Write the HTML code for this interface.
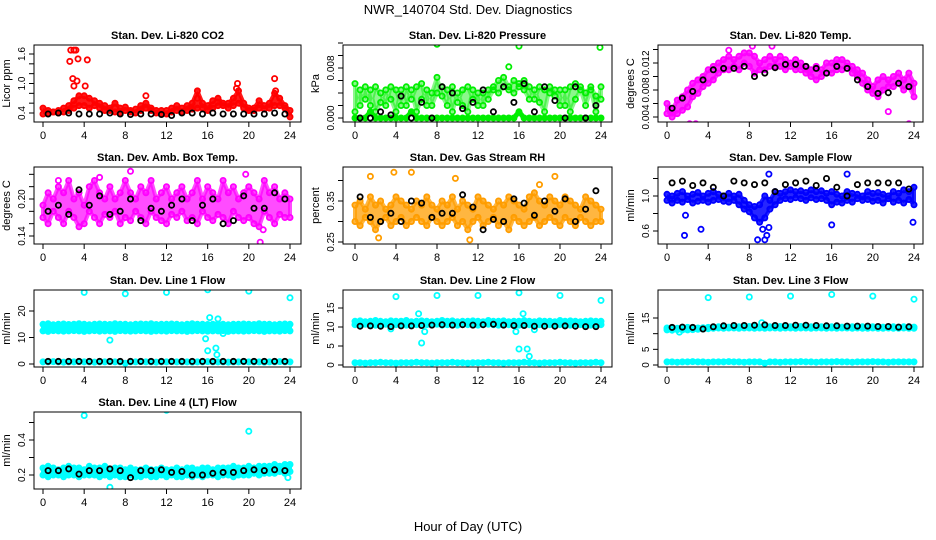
<!DOCTYPE html>
<html><head><meta charset="utf-8"><style>
body{margin:0;background:#fff}
svg{display:block;font-family:"Liberation Sans",sans-serif}
</style></head><body>
<svg id="c" width="936" height="540" viewBox="0 0 936 540">
<text x="468" y="14" text-anchor="middle" font-size="13">NWR_140704  Std. Dev. Diagnostics</text>
<text x="468" y="531" text-anchor="middle" font-size="13">Hour of Day (UTC)</text>
</svg>
<script>
const xTicks=[0,4,8,12,16,20,24];
// Panel 1 CO2
const co2Main=[0.5,0.45,0.42,0.45,0.5,0.55,0.65,0.75,0.75,0.7,0.65,0.6,0.55,0.5,0.6,0.5,0.52,0.45,0.48,0.55,0.6,0.5,0.45,0.45,0.45,0.5,0.55,0.5,0.55,0.6,0.85,0.6,0.55,0.65,0.7,0.6,0.6,0.7,0.85,0.6,0.5,0.5,0.65,0.55,0.6,0.8,0.7,0.55,0.45];
const co2Low=[0.38,0.4,0.42,0.4,0.42,0.45,0.5,0.55,0.55,0.5,0.55,0.5,0.45,0.45,0.42,0.4,0.45,0.42,0.4,0.45,0.5,0.45,0.4,0.38,0.38,0.42,0.45,0.42,0.45,0.48,0.5,0.5,0.45,0.5,0.55,0.55,0.5,0.55,0.6,0.5,0.45,0.45,0.5,0.48,0.5,0.55,0.55,0.5,0.32];
const co2Black=[0.38,0.4,0.4,0.38,0.38,0.38,0.4,0.38,0.37,0.38,0.38,0.37,0.35,0.4,0.4,0.38,0.4,0.38,0.38,0.38,0.38,0.38,0.4,0.38];
const co2OutX=[2.7,2.9,3.0,3.2,3.4,4.3,2.6,3.0,3.3,4.1,18.9,18.8,22.5,22.6,10.0,15.0];
const co2OutY=[1.68,1.1,1.68,1.68,1.5,1.48,1.45,0.95,1.05,0.95,1.0,0.9,1.1,0.85,0.75,0.7];
// Panel 2 Pressure
const prMain=[0.0055,0.002,0.005,0.002,0.005,0.004,0.002,0.005,0.0045,0.002,0.005,0.003,0.005,0.0055,0.002,0.004,0.0065,0.0035,0.002,0.005,0.0025,0.0045,0.005,0.003,0.004,0.002,0.0045,0.005,0.006,0.0065,0.005,0.006,0.0055,0.006,0.005,0.003,0.005,0.0045,0.004,0.0035,0.0045,0.002,0.005,0.0055,0.005,0.004,0.005,0.0035,0.003];
const prMid=[0.001,0.0045,0.003,0.0045,0.001,0.0025,0.0045,0.003,0.001,0.0045,0.002,0.0045,0.001,0.003,0.0045,0.002,0.004,0.005,0.0045,0.001,0.004,0.002,0.001,0.0045,0.002,0.004,0.003,0.0045,0.004,0.005,0.0045,0.004,0.005,0.0045,0.003,0.0045,0.0025,0.001,0.005,0.0045,0.002,0.0045,0.001,0.003,0.0045,0.002,0.0045,0.001,0.005];
const prLow=[0,0,0,0.001,0,0,0,0,0,0,0,0.001,0,0,0,0,0,0,0,0,0,0,0,0,0,0,0,0,0,0,0,0,0.001,0,0,0,0,0,0,0,0,0,0,0,0,0,0,0,0];
const prBlack=[0,0,0.001,0.0005,0.0035,0,0.0025,0,0.005,0.004,0.0015,0.0025,0.0045,0.001,0.005,0.0025,0.0055,0.001,0.005,0.0028,0,0.005,0,0.002];
const prOutX=[8,16,23.9,15];
const prOutY=[0.0118,0.0115,0.0113,0.0082];
// Panel 3 Li-820 Temp
const ltMain=[0.006,0.005,0.0065,0.007,0.008,0.009,0.0095,0.01,0.011,0.0115,0.012,0.0125,0.013,0.0125,0.013,0.0135,0.0135,0.013,0.012,0.0125,0.013,0.0125,0.013,0.0125,0.012,0.0125,0.012,0.0115,0.011,0.0115,0.011,0.012,0.012,0.0125,0.0125,0.012,0.0115,0.011,0.0105,0.0095,0.0085,0.0095,0.01,0.0095,0.01,0.0105,0.0095,0.0105,0.009];
const ltLow=[0.0045,0.004,0.0045,0.005,0.0055,0.007,0.0075,0.0085,0.009,0.0095,0.0105,0.011,0.011,0.0115,0.011,0.012,0.0115,0.0105,0.011,0.011,0.0115,0.0115,0.0115,0.011,0.0115,0.011,0.011,0.0105,0.01,0.0095,0.01,0.0105,0.0105,0.011,0.011,0.0115,0.0105,0.01,0.009,0.008,0.0075,0.007,0.008,0.0085,0.0085,0.009,0.008,0.0085,0.007];
const ltBlack=[0.0053,0.0068,0.0078,0.0095,0.011,0.0112,0.0112,0.0115,0.01,0.0105,0.0113,0.0118,0.0118,0.0115,0.0112,0.0105,0.0115,0.0112,0.0095,0.0085,0.0075,0.0076,0.009,0.0085];
const ltOutX=[2.2,2.8,6,8.3,10.2,21.5,23.5];
const ltOutY=[0.003,0.003,0.0139,0.0145,0.0145,0.0048,0.003];
// Panel 4 Amb Box Temp
const abMain=[0.19,0.21,0.2,0.22,0.21,0.23,0.2,0.21,0.19,0.22,0.23,0.21,0.2,0.22,0.2,0.21,0.23,0.21,0.2,0.22,0.21,0.23,0.2,0.21,0.22,0.2,0.21,0.22,0.2,0.21,0.23,0.2,0.22,0.21,0.2,0.23,0.21,0.22,0.2,0.21,0.22,0.21,0.2,0.23,0.21,0.22,0.2,0.21,0.2];
const abLow=[0.17,0.16,0.18,0.17,0.16,0.18,0.17,0.155,0.16,0.18,0.17,0.16,0.175,0.17,0.18,0.16,0.17,0.165,0.18,0.17,0.16,0.18,0.17,0.165,0.16,0.175,0.17,0.18,0.165,0.17,0.16,0.18,0.17,0.165,0.175,0.17,0.16,0.18,0.17,0.165,0.17,0.16,0.155,0.18,0.17,0.16,0.175,0.17,0.17];
const abBlack=[0.18,0.19,0.175,0.215,0.19,0.205,0.175,0.18,0.2,0.165,0.185,0.18,0.19,0.2,0.165,0.19,0.2,0.16,0.165,0.205,0.185,0.185,0.21,0.2];
const abOutX=[8.5,19.7,21.1,21.4,1.5,5.5];
const abOutY=[0.245,0.24,0.13,0.15,0.23,0.235];
// Panel 5 Gas Stream RH
const rhMain=[0.34,0.35,0.33,0.36,0.34,0.35,0.33,0.34,0.36,0.35,0.34,0.33,0.35,0.34,0.36,0.34,0.33,0.35,0.34,0.36,0.33,0.35,0.34,0.33,0.36,0.35,0.34,0.33,0.35,0.34,0.36,0.35,0.34,0.33,0.36,0.37,0.35,0.34,0.36,0.35,0.34,0.36,0.35,0.34,0.33,0.36,0.35,0.34,0.33];
const rhLow=[0.3,0.29,0.31,0.3,0.28,0.3,0.31,0.29,0.3,0.31,0.29,0.3,0.31,0.3,0.29,0.31,0.3,0.29,0.3,0.31,0.29,0.3,0.28,0.3,0.31,0.29,0.3,0.31,0.29,0.3,0.28,0.31,0.3,0.29,0.3,0.31,0.29,0.3,0.31,0.3,0.29,0.31,0.3,0.29,0.31,0.3,0.29,0.3,0.3];
const rhBlack=[0.36,0.31,0.3,0.32,0.3,0.35,0.345,0.31,0.32,0.32,0.365,0.335,0.28,0.305,0.3,0.355,0.345,0.315,0.35,0.325,0.355,0.3,0.33,0.375];
const rhOutX=[1.5,3.8,5.5,9.8,11.2,18,19.5,2.3];
const rhOutY=[0.41,0.42,0.42,0.405,0.255,0.39,0.41,0.26];
// Panel 6 Sample Flow
const sfMain=[1.02,1.0,1.03,1.05,1.0,1.02,1.04,1.0,1.03,1.05,1.02,1.0,1.03,1.0,1.02,0.95,0.9,0.88,0.9,1.0,0.95,1.05,1.03,1.05,1.07,1.05,1.06,1.04,1.07,1.05,1.06,1.03,1.05,1.02,1.0,1.05,1.03,1.02,1.0,1.05,1.03,1.04,1.02,1.0,1.05,1.03,1.07,1.05,1.1];
const sfLow=[0.95,0.92,0.95,0.93,0.96,0.92,0.94,0.95,0.93,0.95,0.96,0.94,0.93,0.95,0.9,0.85,0.82,0.75,0.7,0.75,0.85,0.9,0.95,0.97,0.96,0.98,0.97,0.95,0.98,0.96,0.97,0.95,0.9,0.93,0.92,0.95,0.93,0.97,0.95,0.96,0.94,0.95,0.92,0.97,0.93,0.95,0.92,0.96,0.9];
const sfBlack=[1.15,1.17,1.12,1.15,1.1,1.0,1.17,1.15,1.13,1.15,1.05,1.13,1.15,1.17,1.12,1.2,1.1,1.0,1.13,1.15,1.15,1.15,1.15,1.08];
const sfOutX=[8.8,9.5,9.7,9.9,17.5,1.7,9.3,9.9,16,23.9,1.8,3.3];
const sfOutY=[0.5,0.5,0.55,1.25,1.25,0.55,0.62,0.64,0.67,0.7,0.78,0.62];
// Panel 7 Line 1
const l1Main=[15,15.2,14.8,15,15.1,14.9,15,15.2,15,14.8,15,15.1,15,14.9,15.2,15,15,14.8,15,15.1,15,15.2,14.9,15,15,15.1,15,14.8,15,15.2,15,15,14.9,15,15.1,15,14.8,15,15,15.1,15,14.9,15.2,15,15,14.8,15,15.1,15];
const l1Low=[12.5,12.3,12.6,12.5,12.4,12.5,12.6,12.5,12.3,12.5,12.6,12.4,12.5,12.5,12.3,12.6,12.5,12.4,12.5,12.6,12.5,12.3,12.5,12.5,12.4,12.6,12.5,12.5,12.3,12.5,12.6,12.5,12.4,12.5,12.5,12.6,12.3,12.5,12.5,12.4,12.5,12.6,12.5,12.3,12.5,12.5,12.4,12.6,12.5];
const l1Base=[0.8,0.8,0.9,0.8,0.7,0.8,0.8,0.9,0.8,0.8,0.7,0.8,0.8,0.9,0.8,0.8,0.3,0.8,0.8,0.9,0.8,0.8,0.7,0.8,0.8,0.9,0.8,0.8,0.8,0.7,0.8,0.8,0.9,0.8,0.8,0.8,0.7,0.8,0.8,0.9,0.8,0.8,0.8,0.7,0.8,0.8,0.9,0.8,0.8];
const l1Black=[1,1,1,1,1,1,1,1,1,1,1,1,1,1,1,1,1,1,1,1,1,1,1,1];
const l1OutX=[4,8,12,16,20,24,6.5,15.8,16,16.8,16.9,16.2,17,17.5];
const l1OutY=[27,26.5,27,28,27.5,25,9,9.5,5,6,3.5,17.5,17,11.5];
// Panel 8 Line 2
const l2Main=[11.5,11.6,11.4,11.5,11.7,11.5,11.4,11.6,11.5,11.5,11.7,11.4,11.5,11.6,11.5,11.4,11.5,11.7,11.5,11.6,11.4,11.5,11.5,11.6,11.5,11.4,11.7,11.5,11.5,11.6,11.4,11.5,11.5,11.7,11.5,11.4,11.6,11.5,11.5,11.4,11.7,11.5,11.6,11.5,11.4,11.5,11.6,11.5,11.5];
const l2Low=[10.6,10.5,10.7,10.6,10.5,10.6,10.7,10.5,10.6,10.6,10.5,10.7,10.6,10.5,10.6,10.6,10.7,10.5,10.6,10.6,10.5,10.7,10.6,10.6,10.5,10.6,10.7,10.6,10.5,10.6,10.6,10.7,10.5,10.6,10.6,10.5,10.6,10.7,10.6,10.5,10.6,10.6,10.5,10.7,10.6,10.6,10.5,10.6,10.6];
const l2Base=[0.6,0.6,0.5,0.6,0.6,0.7,0.6,0.6,0.5,0.6,0.6,0.6,0.7,0.6,0.6,0.5,0.6,0.6,0.6,0.7,0.6,0.6,0.5,0.6,0.6,0.6,0.7,0.6,0.6,0.5,0.6,0.6,0.6,0.7,0.6,0.6,0.5,0.6,0.6,0.6,0.7,0.6,0.6,0.5,0.6,0.6,0.6,0.7,0.6];
const l2Black=[10.2,10.3,10.2,10.1,10.3,10.3,10.4,10.5,10.6,10.5,10.6,10.5,10.6,10.7,10.5,10.4,10.4,10.2,10.2,10.2,10.3,10.2,10.1,10.1];
const l2OutX=[4,8,12,16,20,24,6.5,6.2,6.8,16,16.8,17,16.4,3.5,15.7,17.5,9.2];
const l2OutY=[18,18.3,18.3,19,18.3,17,5.8,13.5,8.8,4.2,4.2,2.3,13.5,9.5,8.8,9.3,11.3];
// Panel 9 Line 3
const l3Main=[11.8,11.9,11.7,11.8,12,11.9,11.8,11.9,12,12.1,12.2,12.2,12.1,12.3,12.2,12.2,12.3,12.2,12.1,12.3,12.2,12.2,12.3,12.2,12.2,12.1,12.3,12.2,12.2,12.1,12.2,12.3,12.2,12.2,12.1,12.2,12.2,12.3,12.2,12.1,12.2,12.2,12.1,12.2,12.2,12.1,12.2,12.2,12.1];
const l3Low=[11.2,11.1,11.3,11.2,11.2,11.3,11.4,11.5,11.6,11.7,11.8,11.7,11.8,11.8,11.7,11.8,11.8,11.7,11.8,11.7,11.8,11.8,11.7,11.8,11.8,11.7,11.8,11.8,11.7,11.8,11.8,11.7,11.8,11.7,11.8,11.8,11.7,11.8,11.7,11.7,11.8,11.7,11.7,11.8,11.7,11.7,11.8,11.7,11.7];
const l3Base=[1,1,0.9,1,1,1.1,1,1,0.9,1,1,1,1.1,1,1,0.9,1,1,1,0.6,1,1,0.9,1,1,1,1.1,1,1,0.9,1,1,1,1.1,1,1,0.9,1,1,1,1.1,1,1,0.9,1,1,1,1,1];
const l3Black=[12,12.1,12,11.5,12.2,12.5,12.6,12.6,12.7,12.8,12.6,12.6,12.7,12.7,12.6,12.5,12.5,12.4,12.4,12.4,12.3,12.3,12.1,12.2];
const l3OutX=[4,8,12,16,20,24,1.2,9.2];
const l3OutY=[21.5,21.7,22,22.5,22,21,10.5,13.5];
// Panel 10 Line 4 (LT)
const l4Main=[0.24,0.25,0.24,0.23,0.24,0.25,0.24,0.24,0.23,0.25,0.24,0.24,0.25,0.23,0.24,0.24,0.23,0.24,0.23,0.23,0.24,0.23,0.23,0.24,0.23,0.23,0.24,0.23,0.24,0.24,0.23,0.24,0.24,0.23,0.24,0.24,0.24,0.25,0.24,0.24,0.25,0.24,0.25,0.25,0.25,0.26,0.25,0.26,0.26];
const l4Low=[0.2,0.19,0.2,0.2,0.19,0.2,0.2,0.19,0.2,0.2,0.2,0.19,0.2,0.19,0.2,0.19,0.19,0.2,0.19,0.19,0.2,0.19,0.19,0.2,0.19,0.2,0.19,0.19,0.2,0.19,0.2,0.19,0.2,0.2,0.19,0.2,0.2,0.19,0.2,0.2,0.2,0.21,0.2,0.21,0.21,0.21,0.22,0.21,0.22];
const l4Black=[0.225,0.225,0.235,0.205,0.225,0.225,0.235,0.225,0.185,0.225,0.225,0.23,0.215,0.22,0.2,0.2,0.21,0.215,0.215,0.225,0.23,0.225,0.23,0.225];
const l4OutX=[4,12,20,6.5,23.8];
const l4OutY=[0.54,0.57,0.45,0.13,0.185];

// ---- layout (pixel geometry, not data) ----
const cols=[{bx:34,bw:267,x0:43,x24:290},{bx:343,bw:269,x0:355,x24:601},{bx:658,bw:265,x0:667,x24:914}];
const rows=[45,167,290,412];
const BH=77;
const panels=[
 {name:'co2',title:'Stan. Dev. Li-820 CO2',yl:'Licor ppm',c:0,r:0,a:[0.4,113,1.6,54],ticks:[0.4,0.6,0.8,1.0,1.2,1.4,1.6],labs:['0.4','1.0','1.6'],col:'#ff0000',series:[co2Main,co2Low],bands:[[0,1]],bop:0.9,blk:co2Black,ox:co2OutX,oy:co2OutY},
 {name:'pressure',title:'Stan. Dev. Li-820 Pressure',yl:'kPa',c:1,r:0,a:[0,118,0.008,68],ticks:[0,0.002,0.004,0.006,0.008,0.010,0.012],labs:['0.000','0.008'],col:'#00ee00',series:[prMain,prMid,prLow],bands:[[0,1],[2,2]],bop:0.45,blk:prBlack,ox:prOutX,oy:prOutY},
 {name:'licor-temp',title:'Stan. Dev. Li-820 Temp.',yl:'degrees C',c:2,r:0,a:[0.004,117,0.012,63],ticks:[0.004,0.006,0.008,0.010,0.012,0.014],labs:['0.004','0.008','0.012'],col:'#ff00ff',series:[ltMain,ltLow],bands:[[0,1]],bop:0.8,blk:ltBlack,ox:ltOutX,oy:ltOutY},
 {name:'amb-box-temp',title:'Stan. Dev. Amb. Box Temp.',yl:'degrees C',c:0,r:1,a:[0.14,236,0.20,199],ticks:[0.14,0.16,0.18,0.20,0.22,0.24],labs:['0.14','0.20'],col:'#ff00ff',series:[abMain,abLow],bands:[[0,1]],bop:0.7,blk:abBlack,ox:abOutX,oy:abOutY},
 {name:'gas-rh',title:'Stan. Dev. Gas Stream RH',yl:'percent',c:1,r:1,a:[0.25,242,0.35,201],ticks:[0.25,0.30,0.35,0.40],labs:['0.25','0.35'],col:'#ff9d00',series:[rhMain,rhLow],bands:[[0,1]],bop:0.75,blk:rhBlack,ox:rhOutX,oy:rhOutY},
 {name:'sample-flow',title:'Stan. Dev. Sample Flow',yl:'ml/min',c:2,r:1,a:[0.6,231,1.0,196],ticks:[0.6,0.8,1.0,1.2],labs:['0.6','1.0'],col:'#0000ff',series:[sfMain,sfLow],bands:[[0,1]],bop:0.85,blk:sfBlack,ox:sfOutX,oy:sfOutY},
 {name:'line1-flow',title:'Stan. Dev. Line 1 Flow',yl:'ml/min',c:0,r:2,a:[0,364,20,311],ticks:[0,10,20],labs:['0','10','20'],col:'#00ffff',series:[l1Main,l1Low,l1Base],bands:[[0,1],[2,2]],bop:1,blk:l1Black,ox:l1OutX,oy:l1OutY},
 {name:'line2-flow',title:'Stan. Dev. Line 2 Flow',yl:'ml/min',c:1,r:2,a:[0,365,15,308],ticks:[0,5,10,15],labs:['0','5','10','15'],col:'#00ffff',series:[l2Main,l2Low,l2Base],bands:[[0,1],[2,2]],bop:1,blk:l2Black,ox:l2OutX,oy:l2OutY},
 {name:'line3-flow',title:'Stan. Dev. Line 3 Flow',yl:'ml/min',c:2,r:2,a:[0,365,15,318],ticks:[0,5,10,15],labs:['0','5','15'],col:'#00ffff',series:[l3Main,l3Low,l3Base],bands:[[0,1],[2,2]],bop:1,blk:l3Black,ox:l3OutX,oy:l3OutY},
 {name:'line4-flow',title:'Stan. Dev. Line 4 (LT) Flow',yl:'ml/min',c:0,r:3,a:[0.2,475,0.4,440],ticks:[0.2,0.3,0.4,0.5],labs:['0.2','0.4'],col:'#00ffff',series:[l4Main,l4Low],bands:[[0,1]],bop:1,blk:l4Black,ox:l4OutX,oy:l4OutY}
];
const svg=document.getElementById('c');
const NS='http://www.w3.org/2000/svg';
function mk(tag,attrs,parent){const e=document.createElementNS(NS,tag);for(const k in attrs)e.setAttribute(k,attrs[k]);(parent||svg).appendChild(e);return e;}
panels.forEach(p=>{
 const C=cols[p.c], top=rows[p.r], bot=top+BH;
 const g=mk('g',{});
 
 
 const xs=h=>C.x0+(C.x24-C.x0)*h/24;
 const ys=v=>p.a[1]+(v-p.a[0])*(p.a[3]-p.a[1])/(p.a[2]-p.a[0]);
 const t=mk('text',{x:C.bx+C.bw/2,y:top-6,'text-anchor':'middle','font-size':11,'font-weight':'bold'},g);
 t.textContent=p.title;
 
 
 const cid='clip'+p.name;
 const cp=mk('clipPath',{id:cid},g);mk('rect',{x:C.bx,y:top,width:C.bw,height:BH},cp);
 const pts=mk('g',{'clip-path':'url(#'+cid+')'},g);
 p.bands.forEach((bn,k)=>{
  const A=p.series[bn[0]],B=p.series[bn[1]];
  let d='';
  A.forEach((v,i)=>{d+=(i?'L':'M')+xs(i*24/(A.length-1)).toFixed(1)+','+ys(v).toFixed(1);});
  for(let i=B.length-1;i>=0;i--)d+='L'+xs(i*24/(B.length-1)).toFixed(1)+','+ys(B[i]).toFixed(1);
  const op=k?1:p.bop;
  const bd=mk('path',{d:d+'Z',fill:p.col,'fill-opacity':op,stroke:p.col,'stroke-width':k?5:4,'stroke-opacity':op,'stroke-linejoin':'round'},pts);
  
  
 });
 const dot=(h,v,col,nm)=>{const d=mk('circle',{cx:xs(h).toFixed(1),cy:ys(v).toFixed(1),r:2.6,fill:'none',stroke:col,'stroke-width':1.8},pts);
  
  };
 p.series.forEach(s=>{s.forEach((v,i)=>dot(i*24/(s.length-1),v,p.col,p.name+'-point'));});
 p.ox.forEach((h,i)=>dot(h,p.oy[i],p.col,p.name+'-outlier'));
 p.blk.forEach((v,i)=>dot(i+0.5,v,'#000',p.name+'-black-point'));
 const b=mk('rect',{x:C.bx,y:top,width:C.bw,height:BH,fill:'none',stroke:'#000','stroke-width':1},g);
 
 
 xTicks.forEach(h=>{const x=xs(h);mk('line',{x1:x,x2:x,y1:bot,y2:bot+5,stroke:'#000'},g);
  const tl=mk('text',{x:x,y:bot+17,'text-anchor':'middle','font-size':11},g);tl.textContent=h;
  
  });
 p.ticks.forEach(v=>{const y=ys(v);if(y<top-3||y>bot+3)return;mk('line',{x1:C.bx-5,x2:C.bx,y1:y,y2:y,stroke:'#000'},g);});
 p.labs.forEach(l=>{const y=ys(parseFloat(l));const tl=mk('text',{x:C.bx-9,y:y,'text-anchor':'middle','font-size':10,transform:'rotate(-90 '+(C.bx-9)+' '+y+')'},g);tl.textContent=l;
  
  });
 const yl=mk('text',{x:C.bx-24,y:top+BH/2,'text-anchor':'middle','font-size':11,transform:'rotate(-90 '+(C.bx-24)+' '+(top+BH/2)+')'},g);
 yl.textContent=p.yl;
 
 
});
</script>
</body></html>
